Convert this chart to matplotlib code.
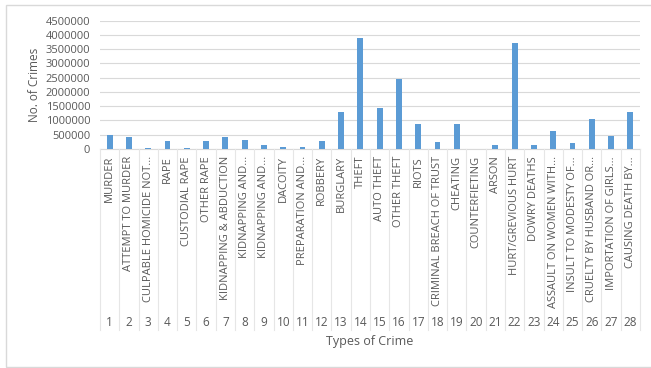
import matplotlib.pyplot as plt
from matplotlib.lines import Line2D
from matplotlib.patches import Rectangle
import matplotlib.transforms as mtransforms

crime_types = ["MURDER", "ATTEMPT TO MURDER", "CULPABLE HOMICIDE NOT...", "RAPE",
               "CUSTODIAL RAPE", "OTHER RAPE", "KIDNAPPING & ABDUCTION", "KIDNAPPING AND...",
               "KIDNAPPING AND...", "DACOITY", "PREPARATION AND...", "ROBBERY", "BURGLARY",
               "THEFT", "AUTO THEFT", "OTHER THEFT", "RIOTS", "CRIMINAL BREACH OF TRUST",
               "CHEATING", "COUNTERFIETING", "ARSON", "HURT/GREVIOUS HURT", "DOWRY DEATHS",
               "ASSAULT ON WOMEN WITH...", "INSULT TO MODESTY OF...", "CRUELTY BY HUSBAND OR...",
               "IMPORTATION OF GIRLS...", "CAUSING DEATH BY..."]
crime_nums = [str(i) for i in range(1, 29)]
crime_counts = [490000, 430000, 40000, 290000, 25000, 290000, 430000, 320000,
                150000, 70000, 60000, 290000, 1300000, 3900000, 1450000, 2460000,
                880000, 245000, 880000, 5000, 130000, 3720000, 140000, 640000,
                220000, 1050000, 455000, 1300000]
y_ticks = list(range(0, 4500001, 500000))

W, H = 651, 368
fig = plt.figure(figsize=(W / 100, H / 100), dpi=100)
plt.rcParams["font.family"] = ["Open Sans", "DejaVu Sans"]
txt_color = "#595959"
line_color = "#d9d9d9"

# chart area border
fig.patches.append(Rectangle((6 / W, 1 - 367 / H), 660 / W, 362 / H, transform=fig.transFigure,
                             fill=False, edgecolor=line_color, linewidth=1))

left, right, top, bottom = 100, 640, 20.7, 149
ax = fig.add_axes([left / W, 1 - bottom / H, (right - left) / W, (bottom - top) / H])

x = list(range(len(crime_counts)))
ax.bar(x, crime_counts, width=0.3, color="#5b9bd5", zorder=3)
ax.set_xlim(-0.5, len(x) - 0.5)
ax.set_ylim(0, 4500000)
ax.set_yticks(y_ticks)
ax.set_yticklabels([str(v) for v in y_ticks], fontsize=8, color=txt_color)
ax.tick_params(axis="y", length=0, pad=7)
ax.set_xticks([])
ax.grid(axis="y", color=line_color, linewidth=0.8, zorder=0)
for s in ["top", "right", "left"]:
    ax.spines[s].set_visible(False)
ax.spines["bottom"].set_color(line_color)
ax.set_ylabel("No. of Crimes", fontsize=8.5, color=txt_color, labelpad=3)

# two-level category axis
trans = mtransforms.blended_transform_factory(ax.transData, fig.transFigure)
for i, (name, num) in enumerate(zip(crime_types, crime_nums)):
    ax.text(i, 1 - 156 / H, name, rotation=90, ha="center", va="top", fontsize=8,
            color=txt_color, transform=trans, clip_on=False)
    ax.text(i, 1 - 323 / H, num, ha="center", va="center", fontsize=8.5,
            color=txt_color, transform=trans, clip_on=False)
for k in range(len(x) + 1):
    fig.lines.append(Line2D([k - 0.5, k - 0.5], [1 - bottom / H, 1 - 330 / H], transform=trans,
                            color="#e6e6e6", linewidth=0.8))

fig.text((left + right) / 2 / W, 1 - 342 / H, "Types of Crime", ha="center", va="center",
         fontsize=9, color=txt_color)

fig.savefig("out.png", dpi=100)
